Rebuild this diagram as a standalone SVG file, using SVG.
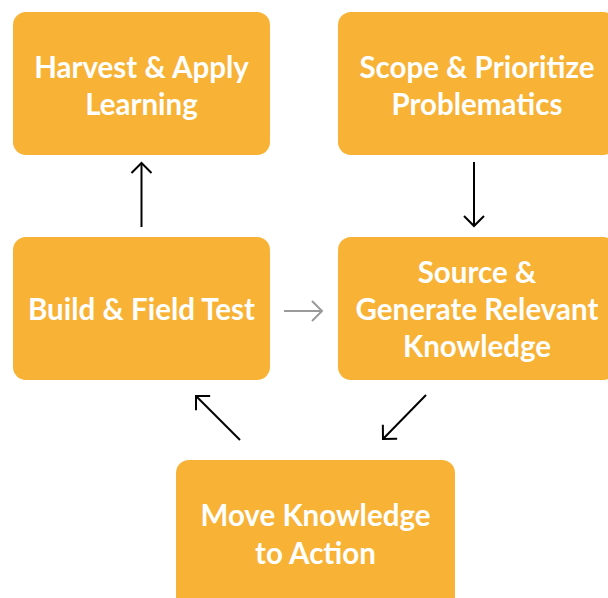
<svg xmlns="http://www.w3.org/2000/svg" width="608" height="598" viewBox="0 0 608 598">
<style>
.box{fill:#F8B235;}
.t{font-family:Lato,"Open Sans",sans-serif;font-weight:700;font-size:29.5px;fill:#fff;text-anchor:middle;}
.c{stroke:#000;stroke-width:2;fill:none;}
.g{stroke:#9a9a9a;stroke-width:2;fill:none;}
</style>
<defs>
<marker id="ah" markerUnits="userSpaceOnUse" markerWidth="24" markerHeight="24" viewBox="-12 -12 24 24" refX="0" refY="0" orient="auto" overflow="visible">
<path d="M-10,-10 L0,0 L-10,10" fill="none" stroke="#000" stroke-width="2"/>
</marker>
<marker id="ahg" markerUnits="userSpaceOnUse" markerWidth="24" markerHeight="24" viewBox="-12 -12 24 24" refX="0" refY="0" orient="auto" overflow="visible">
<path d="M-10,-10 L0,0 L-10,10" fill="none" stroke="#9a9a9a" stroke-width="2"/>
</marker>
</defs>
<rect width="608" height="598" fill="#fff"/>
<g id="harvest">
<rect class="box" x="13" y="12" width="257" height="143" rx="13"/>
<text class="t" x="141.5" y="77.5">Harvest &amp; Apply</text>
<text class="t" x="141.5" y="114.5">Learning</text>
</g>
<g id="scope">
<rect class="box" x="338" y="12" width="278" height="143" rx="13"/>
<text class="t" x="477" y="77.5">Scope &amp; Prioritize</text>
<text class="t" x="477" y="114.5">Problematics</text>
</g>
<g id="build">
<rect class="box" x="13" y="237" width="257" height="143" rx="13"/>
<text class="t" x="141.5" y="319.5">Build &amp; Field Test</text>
</g>
<g id="source">
<rect class="box" x="338" y="237" width="278" height="143" rx="13"/>
<text class="t" x="477" y="282.5">Source &amp;</text>
<text class="t" x="477" y="319.5">Generate Relevant</text>
<text class="t" x="477" y="356.5">Knowledge</text>
</g>
<g id="move">
<rect class="box" x="176" y="460" width="279" height="150" rx="13"/>
<text class="t" x="315.5" y="525.5">Move Knowledge</text>
<text class="t" x="315.5" y="563.5">to Action</text>
</g>
<g id="connectors">
<line class="c" x1="141.5" y1="227" x2="141.5" y2="163" marker-end="url(#ah)"/>
<line class="c" x1="474" y1="162" x2="474" y2="226" marker-end="url(#ah)"/>
<line class="g" x1="284" y1="311" x2="322" y2="311" marker-end="url(#ahg)"/>
<line class="c" x1="426" y1="395" x2="383" y2="439" marker-end="url(#ah)"/>
<line class="c" x1="240" y1="440" x2="196" y2="396" marker-end="url(#ah)"/>
</g>
</svg>
